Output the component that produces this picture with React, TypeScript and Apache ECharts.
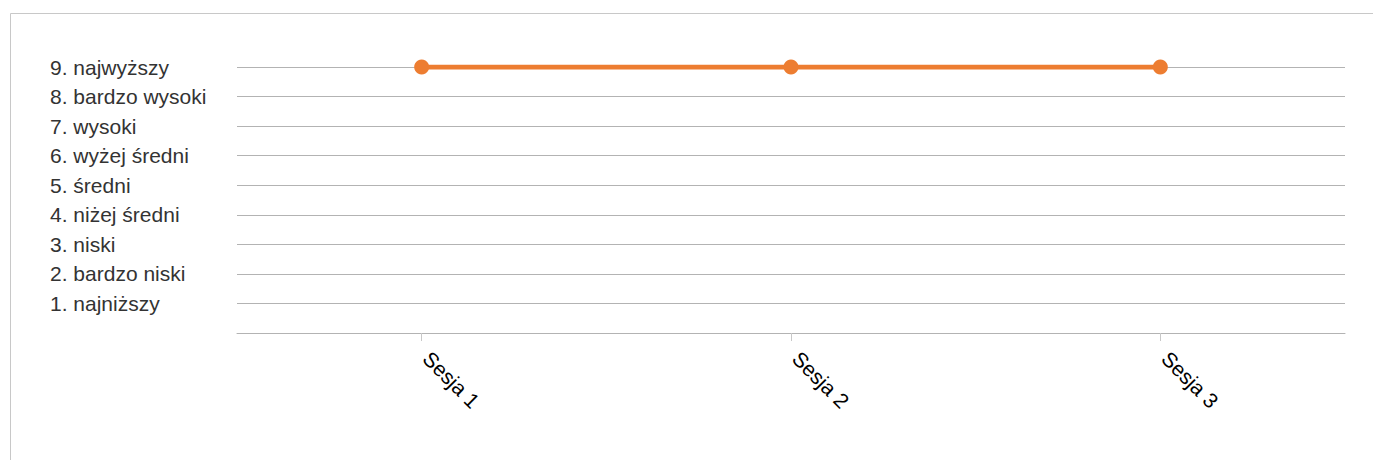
import React, { useEffect, useRef } from "react";
import * as echarts from "echarts";

const categories = ["Sesja 1", "Sesja 2", "Sesja 3"];
const values = [9, 9, 9];
const yLabels = [
  "",
  "1. najniższy",
  "2. bardzo niski",
  "3. niski",
  "4. niżej średni",
  "5. średni",
  "6. wyżej średni",
  "7. wysoki",
  "8. bardzo wysoki",
  "9. najwyższy",
];

export default function App() {
  const ref = useRef<HTMLDivElement>(null);
  useEffect(() => {
    if (!ref.current) return;
    const chart = echarts.init(ref.current, null, { renderer: "svg" });
    chart.setOption({
      animation: false,
      graphic: [
        {
          type: "line",
          shape: { x1: 10.5, y1: 13.5, x2: 1373, y2: 13.5 },
          style: { stroke: "#c8c8c8", lineWidth: 1 },
          silent: true,
        },
        {
          type: "line",
          shape: { x1: 10.5, y1: 13.5, x2: 10.5, y2: 460 },
          style: { stroke: "#c8c8c8", lineWidth: 1 },
          silent: true,
        },
      ],
      grid: { left: 237, right: 28, top: 67, bottom: 127 },
      xAxis: {
        type: "category",
        data: categories,
        boundaryGap: true,
        axisLine: { show: true, lineStyle: { color: "#b3b3b3", width: 1 } },
        axisTick: {
          show: true,
          alignWithLabel: true,
          length: 8,
          lineStyle: { color: "#c8c8c8" },
        },
        axisLabel: {
          rotate: -45,
          margin: 17,
          padding: [0, 0, 0, 7],
          color: "#000",
          fontSize: 21,
          fontFamily: "Liberation Sans, Arial, sans-serif",
        },
      },
      yAxis: {
        type: "value",
        min: 0,
        max: 9,
        interval: 1,
        axisLine: { show: false },
        axisTick: { show: false },
        splitLine: { lineStyle: { color: "#b3b3b3", width: 1 } },
        axisLabel: {
          align: "left",
          margin: 187,
          color: "#333",
          fontSize: 21,
          fontFamily: "Liberation Sans, Arial, sans-serif",
          formatter: (v: number) => yLabels[v] ?? "",
        },
      },
      series: [
        {
          type: "line",
          data: values,
          symbol: "circle",
          symbolSize: 15,
          lineStyle: { color: "#ED7D31", width: 5 },
          itemStyle: { color: "#ED7D31" },
        },
      ],
    });
    return () => chart.dispose();
  }, []);
  return (
    <div
      ref={ref}
      style={{ position: "absolute", left: 0, top: 0, width: 1373, height: 460 }}
    />
  );
}
